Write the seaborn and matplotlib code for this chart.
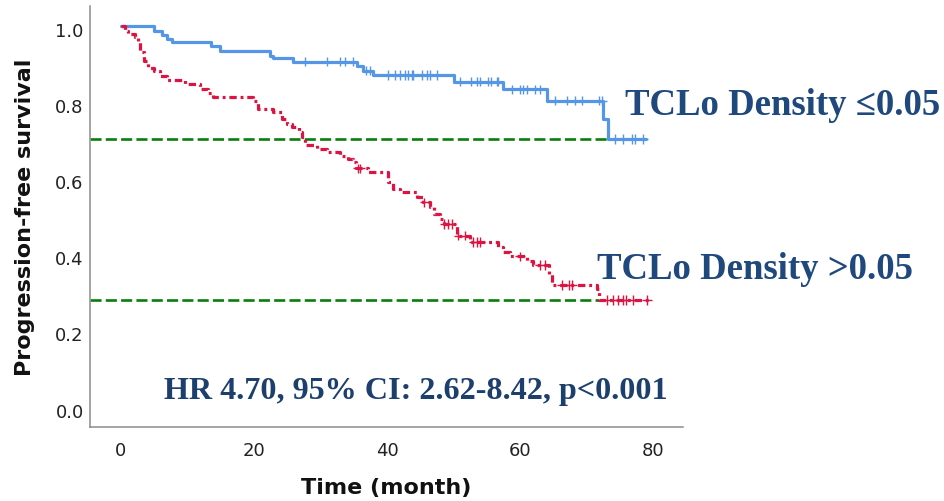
import numpy as np
import pandas as pd
import matplotlib
matplotlib.use("Agg")
import matplotlib.pyplot as plt
import matplotlib.transforms as mtransforms
import seaborn as sns

# ---------------- data ----------------
low_times = [0, 4.9, 6.1, 6.9, 7.6, 13.6, 14.9, 22.4, 22.8, 25.9, 35.5, 36.4, 37.9,
             50.0, 57.5, 64.0, 72.5, 73.2]
low_surv = [1.0, 0.988, 0.976, 0.966, 0.957, 0.947, 0.935, 0.922, 0.915, 0.906, 0.894,
            0.883, 0.871, 0.854, 0.834, 0.804, 0.756, 0.703]
low_end = 79.0
low_censor = [27.7, 30.9, 32.9, 33.7, 34.9, 36.9, 37.4,
              40.2, 41.2, 42.0, 42.7, 43.2, 43.7, 43.9, 45.2, 46.0, 46.5, 47.5,
              51.0, 52.7, 53.5, 54.0, 55.2, 55.7, 56.5, 56.7,
              58.8, 60.0, 60.5, 61.0, 62.3, 63.0,
              65.3, 67.0, 68.3, 69.3, 71.8, 72.3,
              74.3, 75.5, 76.8, 77.3, 78.5]

high_times = [0, 0.6, 1.0, 2.1, 2.6, 2.9, 3.4, 4.1, 4.9, 5.9, 6.9, 9.6, 11.9, 13.1, 13.9,
              19.9, 20.6, 22.9, 24.2, 24.9, 25.7, 26.7, 27.2, 27.7, 29.4, 30.9, 32.9,
              34.2, 34.9, 35.4, 37.2, 40.2, 40.9, 42.0, 44.5, 45.4, 46.5, 47.0, 48.0,
              48.5, 50.5, 52.5, 56.7, 57.5, 58.5, 61.0, 62.0, 64.3, 64.8, 71.5, 71.8]
high_surv = [1.0, 0.988, 0.979, 0.970, 0.957, 0.931, 0.909, 0.889, 0.883, 0.869, 0.859,
             0.847, 0.834, 0.824, 0.813, 0.804, 0.782, 0.773, 0.755, 0.742, 0.734, 0.721,
             0.707, 0.687, 0.677, 0.668, 0.659, 0.650, 0.642, 0.626, 0.615, 0.589, 0.572,
             0.563, 0.550, 0.537, 0.524, 0.506, 0.493, 0.480, 0.449, 0.432, 0.418, 0.405,
             0.395, 0.383, 0.372, 0.348, 0.319, 0.309, 0.280]
high_end = 79.5
high_censor = [35.6, 36.0, 45.6, 48.6, 49.2, 49.7, 50.7, 51.7, 53.0, 53.5, 54.0, 60.0,
               63.0, 63.8, 66.3, 67.3, 67.8, 73.0, 74.0, 74.8, 75.5, 76.0, 77.0, 79.1]

ref_levels = [0.703, 0.280]
ref_ends = [73.2, 71.8]

x_ticks = [0, 20, 40, 60, 80]
y_ticks = [0.0, 0.2, 0.4, 0.6, 0.8, 1.0]

label_low = "TCLo Density \u22640.05"
label_high = "TCLo Density >0.05"
hr_text = "HR 4.70, 95% CI: 2.62-8.42, p<0.001"

# ---------------- build frames ----------------
def curve(times, surv, end, name):
    t = list(times) + [end]
    s = list(surv) + [surv[-1]]
    return pd.DataFrame({"time": t, "surv": s, "group": name})

def censor_points(times, surv, cens, name):
    t = np.asarray(times)
    s = np.asarray(surv)
    idx = np.searchsorted(t, cens, side="right") - 1
    return pd.DataFrame({"time": cens, "surv": s[idx], "group": name})

lines = pd.concat([curve(low_times, low_surv, low_end, "low"),
                   curve(high_times, high_surv, high_end, "high")], ignore_index=True)
cens = pd.concat([censor_points(low_times, low_surv, low_censor, "low"),
                  censor_points(high_times, high_surv, high_censor, "high")],
                 ignore_index=True)

BLUE = "#5597E6"
RED = "#DC1442"
GREEN = "#0A7D0A"
NAVY = "#1F497D"
palette = {"low": BLUE, "high": RED}

# ---------------- plot ----------------
sns.set_theme(style="white")
plt.rcParams["font.family"] = ["DejaVu Sans"]

fig = plt.figure(figsize=(9.45, 5.02), dpi=100)
ax = fig.add_axes([90 / 945, 1 - 428.3 / 502, (683 - 90) / 945, (428.3 - 7) / 502])

x0 = -4.66
for lvl, end in zip(ref_levels, ref_ends):
    ax.plot([x0, end], [lvl, lvl], color=GREEN, lw=1.9, dashes=(4.2, 1.6), zorder=1,
            solid_capstyle="butt", dash_capstyle="butt")

sns.lineplot(data=lines, x="time", y="surv", hue="group", style="group",
             palette=palette, dashes={"low": "", "high": (2.3, 1.2, 0.9, 1.2)},
             drawstyle="steps-post", estimator=None, sort=False, lw=2.3,
             legend=False, ax=ax, zorder=2)
sns.scatterplot(data=cens, x="time", y="surv", hue="group", palette=palette,
                marker="+", s=45, linewidth=1.0, legend=False, ax=ax, zorder=3)

ax.set_xlim(x0, 84.5)
ax.set_ylim((407.5 - 428.3) / 380.5, (407.5 - 7) / 380.5)
ax.set_xticks(x_ticks)
ax.set_yticks(y_ticks)
ax.set_yticklabels([f"{v:.1f}" for v in y_ticks])
ax.tick_params(axis="both", length=0, labelsize=13, colors="#222222")
ax.tick_params(axis="x", pad=10)
ax.tick_params(axis="y", pad=4.5)
shift = mtransforms.ScaledTranslation(0, -3 / 100, fig.dpi_scale_trans)
for lab in ax.get_yticklabels():
    lab.set_transform(lab.get_transform() + shift)

for side in ["top", "right"]:
    ax.spines[side].set_visible(False)
for side in ["left", "bottom"]:
    ax.spines[side].set_color("#8c8c8c")
    ax.spines[side].set_linewidth(1.1)

ax.set_xlabel("Time (month)", fontsize=16, fontweight="bold", color="#111111")
ax.set_ylabel("Progression-free survival", fontsize=16, fontweight="bold", color="#111111")
ax.xaxis.set_label_coords(0.5, (428.3 - 478) / 421.3)
ax.yaxis.set_label_coords((35 - 90) / 593, 0.5)

serif = ["Liberation Serif", "DejaVu Serif"]
fig.text(625 / 945, 1 - 115 / 502, label_low, family=serif, fontsize=26.5,
         fontweight="bold", color=NAVY, va="baseline", ha="left")
fig.text(597 / 945, 1 - 279 / 502, label_high, family=serif, fontsize=26.5,
         fontweight="bold", color=NAVY, va="baseline", ha="left")
fig.text(164 / 945, 1 - 399 / 502, hr_text, family=serif, fontsize=23.1,
         fontweight="bold", color="#1C3F6E", va="baseline", ha="left")

fig.savefig("out.png", dpi=100)
